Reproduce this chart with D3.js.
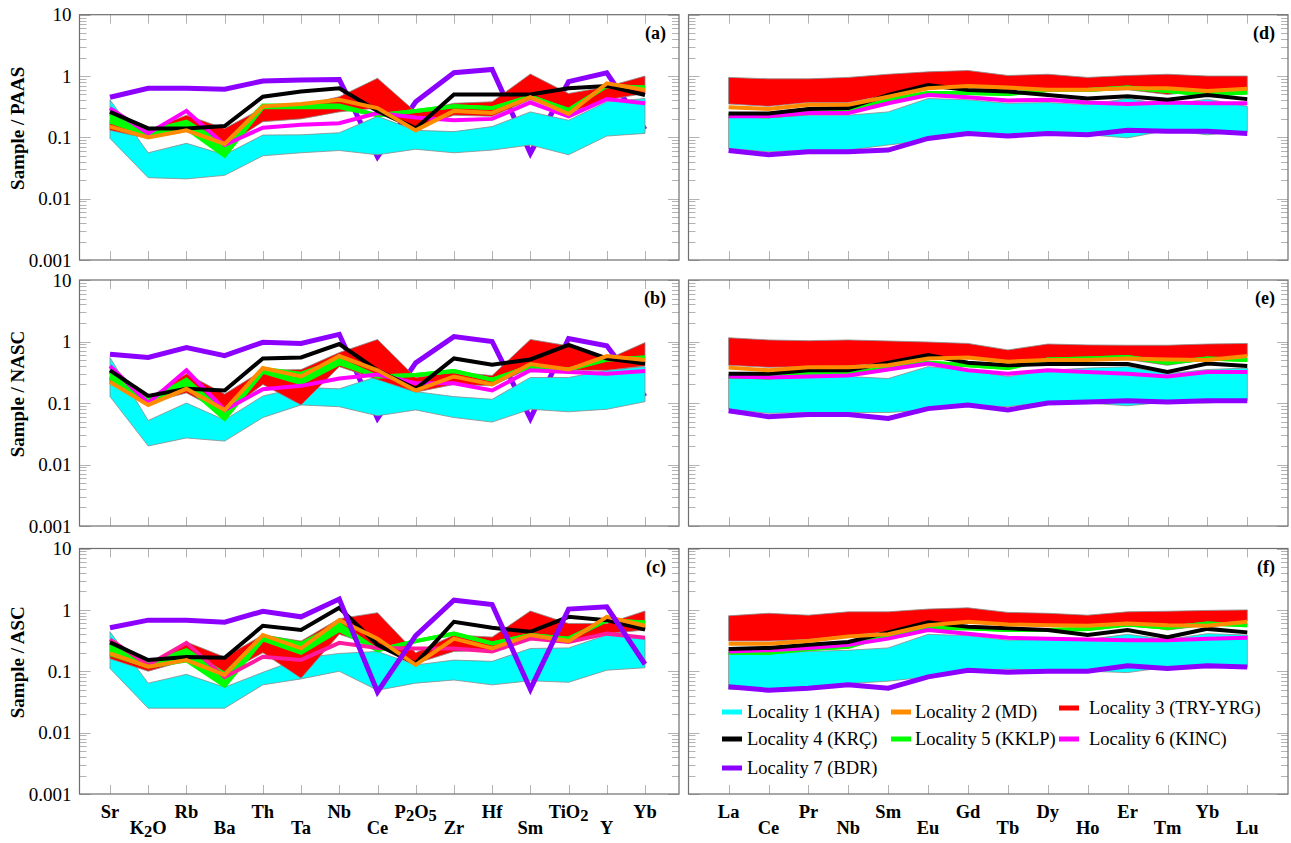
<!DOCTYPE html>
<html>
<head>
<meta charset="utf-8">
<script src="https://cdn.jsdelivr.net/npm/d3@7"></script>
<style>
  html, body { margin: 0; padding: 0; background: #fff; }
  svg { display: block; }
  svg text { font-family: "Liberation Serif", "Times New Roman", "DejaVu Serif", serif; }
</style>
</head>
<body>
<svg id="chart" width="1291" height="843"></svg>
<script>
// ---- categories ----
const traceElements = ["Sr", "K2O", "Rb", "Ba", "Th", "Ta", "Nb", "Ce", "P2O5", "Zr", "Hf", "Sm", "TiO2", "Y", "Yb"];
const reeElements = ["La", "Ce", "Pr", "Nb", "Sm", "Eu", "Gd", "Tb", "Dy", "Ho", "Er", "Tm", "Yb", "Lu"];
const yTickValues = [0.001, 0.01, 0.1, 1, 10];
const yTickLabels = ["0.001", "0.01", "0.1", "1", "10"];
const localityNames = ["Locality 1 (KHA)", "Locality 2 (MD)", "Locality 3 (TRY-YRG)",
                       "Locality 4 (KRÇ)", "Locality 5 (KKLP)", "Locality 6 (KINC)", "Locality 7 (BDR)"];

// ---- (a) trace elements / PAAS ----
const paasKhaHi  = [0.41, 0.056, 0.080, 0.052, 0.109, 0.11, 0.119, 0.22, 0.13, 0.124, 0.15, 0.26, 0.19, 0.38, 0.43];
const paasKhaLo  = [0.096, 0.022, 0.021, 0.024, 0.050, 0.056, 0.061, 0.052, 0.064, 0.056, 0.062, 0.075, 0.052, 0.105, 0.116];
const paasTryHi  = [0.19, 0.13, 0.23, 0.14, 0.30, 0.33, 0.46, 0.92, 0.26, 0.36, 0.38, 1.08, 0.52, 0.67, 1.0];
const paasTryLo  = [0.13, 0.096, 0.125, 0.07, 0.18, 0.20, 0.26, 0.30, 0.14, 0.23, 0.22, 0.41, 0.25, 0.41, 0.52];
const paasMd     = [0.15, 0.10, 0.13, 0.078, 0.32, 0.35, 0.41, 0.30, 0.13, 0.27, 0.25, 0.45, 0.24, 0.76, 0.59];
const paasKrc    = [0.26, 0.14, 0.14, 0.153, 0.46, 0.56, 0.63, 0.27, 0.14, 0.50, 0.50, 0.50, 0.63, 0.69, 0.49];
const paasKklpHi = [0.24, 0.125, 0.18, 0.075, 0.33, 0.33, 0.33, 0.23, 0.27, 0.32, 0.30, 0.46, 0.28, 0.69, 0.65];
const paasKklpLo = [0.18, 0.11, 0.14, 0.05, 0.31, 0.31, 0.31, 0.23, 0.27, 0.32, 0.30, 0.46, 0.28, 0.69, 0.65];
const paasKinc   = [0.30, 0.116, 0.27, 0.075, 0.144, 0.16, 0.17, 0.25, 0.21, 0.19, 0.20, 0.37, 0.22, 0.42, 0.36];
const paasBdr    = [0.45, 0.63, 0.63, 0.61, 0.83, 0.86, 0.88, 0.048, 0.38, 1.13, 1.28, 0.055, 0.81, 1.13, 0.135];

// ---- (b) trace elements / NASC ----
const nascKhaHi  = [0.55, 0.052, 0.10, 0.053, 0.13, 0.18, 0.17, 0.27, 0.153, 0.127, 0.115, 0.26, 0.26, 0.34, 0.39];
const nascKhaLo  = [0.127, 0.020, 0.027, 0.024, 0.058, 0.093, 0.087, 0.062, 0.077, 0.058, 0.049, 0.079, 0.072, 0.079, 0.105];
const nascTryHi  = [0.27, 0.12, 0.30, 0.14, 0.34, 0.35, 0.66, 1.08, 0.26, 0.32, 0.28, 1.08, 0.85, 0.51, 0.96];
const nascTryLo  = [0.21, 0.10, 0.146, 0.068, 0.20, 0.093, 0.39, 0.24, 0.15, 0.20, 0.19, 0.37, 0.34, 0.34, 0.40];
const nascMd     = [0.22, 0.093, 0.17, 0.077, 0.37, 0.27, 0.58, 0.34, 0.16, 0.27, 0.20, 0.43, 0.35, 0.58, 0.50];
const nascKrc    = [0.34, 0.13, 0.17, 0.16, 0.53, 0.55, 0.91, 0.34, 0.17, 0.53, 0.42, 0.51, 0.88, 0.53, 0.44];
const nascKklpHi = [0.32, 0.11, 0.24, 0.068, 0.36, 0.30, 0.50, 0.27, 0.285, 0.33, 0.24, 0.39, 0.35, 0.51, 0.55];
const nascKklpLo = [0.26, 0.10, 0.19, 0.055, 0.32, 0.21, 0.44, 0.27, 0.285, 0.33, 0.24, 0.39, 0.35, 0.51, 0.55];
const nascKinc   = [0.40, 0.10, 0.34, 0.077, 0.167, 0.19, 0.25, 0.29, 0.21, 0.21, 0.16, 0.34, 0.32, 0.30, 0.33];
const nascBdr    = [0.62, 0.55, 0.80, 0.59, 0.97, 0.93, 1.31, 0.056, 0.45, 1.2, 1.0, 0.056, 1.12, 0.85, 0.127];

// ---- (c) trace elements / ASC ----
const ascKhaHi  = [0.44, 0.064, 0.089, 0.055, 0.096, 0.163, 0.195, 0.21, 0.127, 0.152, 0.145, 0.235, 0.24, 0.39, 0.35];
const ascKhaLo  = [0.111, 0.025, 0.025, 0.025, 0.06, 0.075, 0.1, 0.049, 0.064, 0.072, 0.06, 0.07, 0.066, 0.104, 0.114];
const ascTryHi  = [0.25, 0.13, 0.30, 0.17, 0.39, 0.31, 0.72, 0.9, 0.2, 0.39, 0.36, 0.96, 0.6, 0.6, 0.96];
const ascTryLo  = [0.16, 0.10, 0.15, 0.09, 0.2, 0.077, 0.40, 0.25, 0.134, 0.21, 0.22, 0.39, 0.31, 0.41, 0.47];
const ascMd     = [0.195, 0.119, 0.152, 0.087, 0.39, 0.236, 0.68, 0.34, 0.127, 0.34, 0.235, 0.39, 0.31, 0.77, 0.55];
const ascKrc    = [0.295, 0.152, 0.17, 0.166, 0.55, 0.47, 1.08, 0.27, 0.134, 0.64, 0.51, 0.44, 0.77, 0.68, 0.48];
const ascKklpHi = [0.27, 0.134, 0.22, 0.09, 0.37, 0.28, 0.58, 0.22, 0.31, 0.41, 0.285, 0.39, 0.34, 0.68, 0.62];
const ascKklpLo = [0.19, 0.12, 0.15, 0.058, 0.33, 0.2, 0.47, 0.22, 0.31, 0.41, 0.285, 0.39, 0.34, 0.68, 0.62];
const ascKinc   = [0.33, 0.126, 0.29, 0.08, 0.172, 0.153, 0.29, 0.24, 0.235, 0.235, 0.21, 0.34, 0.30, 0.41, 0.35];
const ascBdr    = [0.51, 0.68, 0.68, 0.63, 0.95, 0.77, 1.5, 0.046, 0.38, 1.44, 1.22, 0.051, 1.03, 1.12, 0.13];

// ---- (d) REE / PAAS ----
const reePaasKhaHi = [0.22, 0.21, 0.23, 0.23, 0.26, 0.43, 0.41, 0.36, 0.37, 0.34, 0.43, 0.34, 0.42, 0.32];
const reePaasKhaLo = [0.066, 0.058, 0.062, 0.062, 0.075, 0.09, 0.116, 0.11, 0.12, 0.11, 0.098, 0.13, 0.11, 0.125];
const reePaasTryHi = [0.95, 0.9, 0.9, 0.95, 1.07, 1.17, 1.23, 1.02, 1.07, 0.95, 1.02, 1.07, 1.0, 1.0];
const reePaasTryLo = [0.35, 0.32, 0.37, 0.37, 0.49, 0.69, 0.65, 0.59, 0.6, 0.58, 0.6, 0.5, 0.57, 0.58];
const reePaasMd    = [0.31, 0.29, 0.34, 0.34, 0.46, 0.63, 0.69, 0.65, 0.6, 0.6, 0.63, 0.63, 0.57, 0.62];
const reePaasKrc   = [0.246, 0.246, 0.29, 0.30, 0.49, 0.71, 0.59, 0.56, 0.49, 0.43, 0.47, 0.41, 0.49, 0.42];
const reePaasKklp  = [0.23, 0.22, 0.25, 0.26, 0.41, 0.53, 0.53, 0.51, 0.59, 0.59, 0.65, 0.57, 0.5, 0.54];
const reePaasKinc  = [0.22, 0.22, 0.25, 0.25, 0.36, 0.49, 0.45, 0.40, 0.41, 0.37, 0.35, 0.37, 0.36, 0.36];
const reePaasBdr   = [0.061, 0.052, 0.058, 0.058, 0.062, 0.096, 0.116, 0.105, 0.116, 0.11, 0.13, 0.126, 0.126, 0.116];

// ---- (e) REE / NASC ----
const reeNascKhaHi = [0.27, 0.25, 0.27, 0.27, 0.25, 0.39, 0.34, 0.27, 0.34, 0.37, 0.39, 0.3, 0.35, 0.37];
const reeNascKhaLo = [0.079, 0.068, 0.07, 0.07, 0.07, 0.077, 0.093, 0.087, 0.104, 0.1, 0.09, 0.104, 0.1, 0.11];
const reeNascTryHi = [1.15, 1.06, 1.03, 1.06, 1.02, 0.98, 0.93, 0.73, 0.91, 0.88, 0.87, 0.87, 0.91, 0.93];
const reeNascTryLo = [0.41, 0.38, 0.39, 0.4, 0.45, 0.55, 0.55, 0.49, 0.5, 0.51, 0.51, 0.41, 0.51, 0.58];
const reeNascMd    = [0.376, 0.34, 0.38, 0.38, 0.41, 0.53, 0.55, 0.47, 0.5, 0.5, 0.53, 0.51, 0.5, 0.58];
const reeNascKrc   = [0.30, 0.30, 0.34, 0.34, 0.45, 0.6, 0.45, 0.41, 0.43, 0.43, 0.43, 0.32, 0.44, 0.4];
const reeNascKklp  = [0.27, 0.26, 0.3, 0.3, 0.37, 0.45, 0.41, 0.37, 0.51, 0.53, 0.56, 0.45, 0.53, 0.5];
const reeNascKinc  = [0.27, 0.26, 0.27, 0.28, 0.35, 0.44, 0.34, 0.30, 0.34, 0.32, 0.30, 0.27, 0.32, 0.32];
const reeNascBdr   = [0.075, 0.06, 0.065, 0.065, 0.056, 0.081, 0.093, 0.077, 0.1, 0.104, 0.109, 0.104, 0.109, 0.109];

// ---- (f) REE / ASC ----
const reeAscKhaHi = [0.195, 0.195, 0.21, 0.22, 0.24, 0.4, 0.38, 0.32, 0.33, 0.33, 0.4, 0.33, 0.41, 0.39];
const reeAscKhaLo = [0.051, 0.051, 0.056, 0.063, 0.069, 0.081, 0.104, 0.108, 0.104, 0.1, 0.095, 0.117, 0.113, 0.117];
const reeAscTryHi = [0.8, 0.88, 0.82, 0.93, 0.93, 1.03, 1.08, 0.91, 0.88, 0.82, 0.93, 0.95, 0.98, 1.0];
const reeAscTryLo = [0.31, 0.31, 0.33, 0.38, 0.44, 0.6, 0.63, 0.58, 0.55, 0.56, 0.63, 0.47, 0.56, 0.66];
const reeAscMd    = [0.28, 0.28, 0.31, 0.37, 0.40, 0.56, 0.64, 0.58, 0.56, 0.55, 0.6, 0.56, 0.55, 0.64];
const reeAscKrc   = [0.23, 0.24, 0.27, 0.3, 0.43, 0.63, 0.53, 0.5, 0.47, 0.39, 0.47, 0.36, 0.49, 0.43];
const reeAscKklp  = [0.2, 0.2, 0.23, 0.25, 0.39, 0.5, 0.5, 0.47, 0.47, 0.49, 0.58, 0.51, 0.6, 0.56];
const reeAscKinc  = [0.21, 0.22, 0.24, 0.27, 0.34, 0.47, 0.41, 0.35, 0.34, 0.33, 0.32, 0.32, 0.34, 0.35];
const reeAscBdr   = [0.056, 0.049, 0.053, 0.06, 0.053, 0.081, 0.104, 0.096, 0.1, 0.1, 0.123, 0.111, 0.123, 0.117];

// ---- styling ----
const FONT = "'Liberation Serif', 'Times New Roman', 'DejaVu Serif', serif";
const COLORS = { kha: "#00ffff", md: "#ff8c00", tryy: "#ff0000", krc: "#000000",
                 kklp: "#00ff00", kinc: "#ff00ff", kincAsc: "#ff1a9e", bdr: "#8b00ff" };
const legendColors = [COLORS.kha, COLORS.md, COLORS.tryy, COLORS.krc, COLORS.kklp, COLORS.kinc, COLORS.bdr];

const COLS = {
  left:  { x0: 79.5, x1: 679, first: 110, last: 645 },
  right: { x0: 688.5, x1: 1288, first: 728.6, last: 1247.3 }
};
const ROWS = [ { top: 14.7, bottom: 260 }, { top: 280, bottom: 526 }, { top: 548.5, bottom: 794 } ];

const panels = [
  { col: "left", row: 0, tag: "(a)", title: "Sample / PAAS", cats: traceElements, purpleOnTop: false,
    khaHi: paasKhaHi, khaLo: paasKhaLo, tryHi: paasTryHi, tryLo: paasTryLo, md: paasMd, krc: paasKrc,
    kklpHi: paasKklpHi, kklpLo: paasKklpLo, kinc: paasKinc, kincColor: COLORS.kinc, bdr: paasBdr },
  { col: "left", row: 1, tag: "(b)", title: "Sample / NASC", cats: traceElements, purpleOnTop: false,
    khaHi: nascKhaHi, khaLo: nascKhaLo, tryHi: nascTryHi, tryLo: nascTryLo, md: nascMd, krc: nascKrc,
    kklpHi: nascKklpHi, kklpLo: nascKklpLo, kinc: nascKinc, kincColor: COLORS.kinc, bdr: nascBdr },
  { col: "left", row: 2, tag: "(c)", title: "Sample / ASC", cats: traceElements, purpleOnTop: true, xLabels: true,
    khaHi: ascKhaHi, khaLo: ascKhaLo, tryHi: ascTryHi, tryLo: ascTryLo, md: ascMd, krc: ascKrc,
    kklpHi: ascKklpHi, kklpLo: ascKklpLo, kinc: ascKinc, kincColor: COLORS.kincAsc, bdr: ascBdr },
  { col: "right", row: 0, tag: "(d)", cats: reeElements, purpleOnTop: true,
    khaHi: reePaasKhaHi, khaLo: reePaasKhaLo, tryHi: reePaasTryHi, tryLo: reePaasTryLo, md: reePaasMd, krc: reePaasKrc,
    kklpHi: reePaasKklp, kklpLo: reePaasKklp, kinc: reePaasKinc, kincColor: COLORS.kinc, bdr: reePaasBdr },
  { col: "right", row: 1, tag: "(e)", cats: reeElements, purpleOnTop: true,
    khaHi: reeNascKhaHi, khaLo: reeNascKhaLo, tryHi: reeNascTryHi, tryLo: reeNascTryLo, md: reeNascMd, krc: reeNascKrc,
    kklpHi: reeNascKklp, kklpLo: reeNascKklp, kinc: reeNascKinc, kincColor: COLORS.kinc, bdr: reeNascBdr },
  { col: "right", row: 2, tag: "(f)", cats: reeElements, purpleOnTop: true, xLabels: true, legend: true,
    khaHi: reeAscKhaHi, khaLo: reeAscKhaLo, tryHi: reeAscTryHi, tryLo: reeAscTryLo, md: reeAscMd, krc: reeAscKrc,
    kklpHi: reeAscKklp, kklpLo: reeAscKklp, kinc: reeAscKinc, kincColor: COLORS.kinc, bdr: reeAscBdr }
];

const svg = d3.select("#chart").attr("font-family", FONT);
svg.append("rect").attr("width", 1291).attr("height", 843).attr("fill", "#fff");

// chemical formula label: digits become subscripts
function formulaText(sel, label, size) {
  const parts = label.match(/[A-Za-z]+|\d+/g);
  let sub = false;
  parts.forEach(p => {
    const isNum = /^\d+$/.test(p);
    const t = sel.append("tspan").text(p);
    if (isNum && !sub) { t.attr("dy", 3).attr("font-size", size - 2); sub = true; }
    else if (isNum) { t.attr("font-size", size - 2); }
    else if (!isNum && sub) { t.attr("dy", -3); sub = false; }
  });
}

function txt(g) { return g.append("text").attr("font-family", FONT).attr("fill", "#000"); }

function drawPanel(p) {
  const c = COLS[p.col], r = ROWS[p.row];
  const n = p.cats.length;
  const x = d3.scaleLinear().domain([0, n - 1]).range([c.first, c.last]);
  const y = d3.scaleLog().domain([0.001, 10]).range([r.bottom, r.top]);
  const g = svg.append("g");

  // log ticks on both vertical edges
  const tickVals = [];
  [0.001, 0.01, 0.1, 1].forEach(d => { for (let k = 1; k <= 9; k++) tickVals.push({ v: k * d, major: k === 1 }); });
  tickVals.push({ v: 10, major: true });
  const tg = g.append("g").attr("stroke", "#b3b3b3").attr("stroke-width", 1);
  tickVals.forEach(t => {
    const yy = Math.round(y(t.v)) + 0.5, len = t.major ? 11 : 7;
    tg.append("line").attr("x1", c.x0).attr("x2", c.x0 + len).attr("y1", yy).attr("y2", yy);
    tg.append("line").attr("x1", c.x1).attr("x2", c.x1 - len).attr("y1", yy).attr("y2", yy);
  });
  d3.range(n).forEach(i => {
    const xx = Math.round(x(i)) + 0.5;
    tg.append("line").attr("x1", xx).attr("x2", xx).attr("y1", r.top).attr("y2", r.top + 9);
    tg.append("line").attr("x1", xx).attr("x2", xx).attr("y1", r.bottom).attr("y2", r.bottom - 9);
  });

  const lineGen = d3.line().x((d, i) => x(i)).y(d => y(d));
  const areaGen = (lo, hi) => d3.area().x((d, i) => x(i)).y0((d, i) => y(lo[i])).y1((d, i) => y(hi[i]))(hi);

  const drawLine = (vals, color, w) =>
    g.append("path").attr("d", lineGen(vals)).attr("fill", "none").attr("stroke", color)
      .attr("stroke-width", w).attr("stroke-linejoin", "miter").attr("stroke-miterlimit", 3);
  const drawBand = (lo, hi, color) =>
    g.append("path").attr("d", areaGen(lo, hi)).attr("fill", color).attr("stroke", "#8a8a8a").attr("stroke-width", 0.8);

  if (!p.purpleOnTop) drawLine(p.bdr, COLORS.bdr, 5);
  if (p.col === "right") { drawBand(p.tryLo, p.tryHi, COLORS.tryy); drawBand(p.khaLo, p.khaHi, COLORS.kha); }
  else { drawBand(p.khaLo, p.khaHi, COLORS.kha); drawBand(p.tryLo, p.tryHi, COLORS.tryy); }
  // KKLP range: filled between its extremes, both edges stroked
  g.append("path").attr("d", areaGen(p.kklpLo, p.kklpHi)).attr("fill", COLORS.kklp);
  drawLine(p.kklpLo, COLORS.kklp, 4);
  drawLine(p.kklpHi, COLORS.kklp, 4);
  drawLine(p.kinc, p.kincColor, 4);
  drawLine(p.krc, COLORS.krc, 4);
  drawLine(p.md, COLORS.md, 4);
  if (p.purpleOnTop) drawLine(p.bdr, COLORS.bdr, 5);

  // frame
  g.append("rect").attr("x", c.x0).attr("y", r.top).attr("width", c.x1 - c.x0).attr("height", r.bottom - r.top)
    .attr("fill", "none").attr("stroke", "#6e6e6e").attr("stroke-width", 1.2);

  // panel tag
  txt(g).attr("x", c.x1 - 13).attr("y", r.top + 24).attr("text-anchor", "end")
    .attr("font-size", 18).attr("font-weight", "bold").text(p.tag);

  // y tick labels and title (left column only)
  if (p.col === "left") {
    yTickValues.forEach((v, i) => {
      txt(g).attr("x", c.x0 - 8).attr("y", y(v)).attr("dy", "0.35em").attr("text-anchor", "end")
        .attr("font-size", 19).text(yTickLabels[i]);
    });
    const cy = (r.top + r.bottom) / 2 - 9;
    txt(g).attr("transform", `translate(17,${cy}) rotate(-90)`).attr("text-anchor", "middle")
      .attr("dy", "0.35em").attr("font-size", 19).attr("font-weight", "bold").text(p.title);
  }

  // category labels, staggered in two rows
  if (p.xLabels) {
    p.cats.forEach((lab, i) => {
      const t = txt(g).attr("x", x(i)).attr("y", i % 2 === 0 ? 818 : 834)
        .attr("text-anchor", "middle").attr("font-size", 18.5).attr("font-weight", "bold");
      formulaText(t, lab, 18.5);
    });
  }

  if (p.legend) drawLegend(g);
}

function drawLegend(g) {
  const colX = [722, 891, 1059], textX = [747, 915, 1089];
  const rowY = [712, 739, 768];
  localityNames.forEach((name, i) => {
    const col = i % 3, row = Math.floor(i / 3);
    const yy = (i === 2) ? rowY[0] - 4 : rowY[row];
    g.append("line").attr("x1", colX[col]).attr("x2", colX[col] + 20).attr("y1", yy).attr("y2", yy)
      .attr("stroke", legendColors[i]).attr("stroke-width", 5);
    txt(g).attr("x", textX[col]).attr("y", yy).attr("dy", "0.35em")
      .attr("font-size", 18.5).text(name);
  });
}

panels.forEach(drawPanel);
</script>
</body>
</html>
